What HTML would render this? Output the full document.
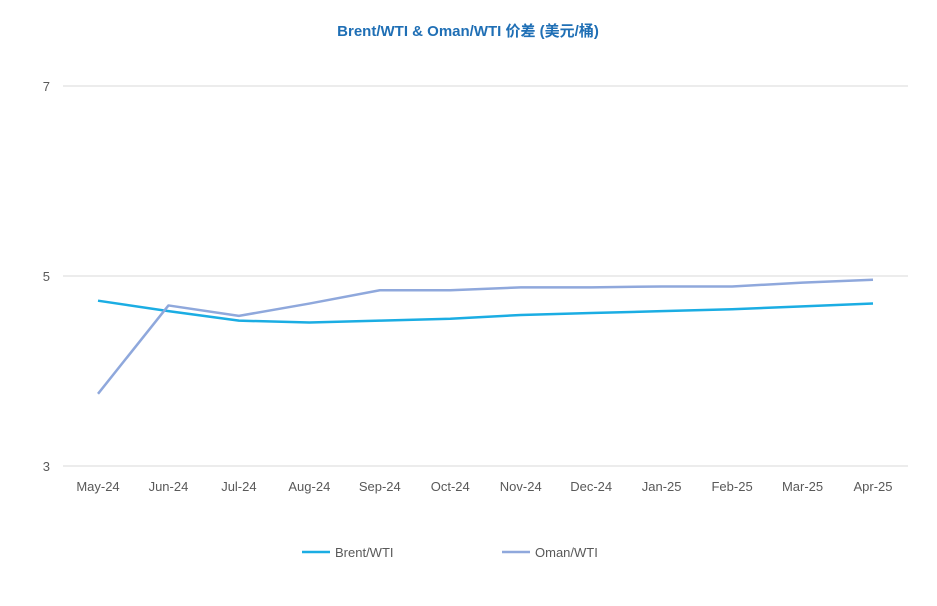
<!DOCTYPE html>
<html><head><meta charset="utf-8"><style>
body{margin:0;background:#fff;width:937px;height:601px;overflow:hidden;font-family:"Liberation Sans","Noto Sans CJK SC",sans-serif}
</style></head><body>
<svg id="c" width="937" height="601" xmlns="http://www.w3.org/2000/svg">
<text x="468" y="36" text-anchor="middle" font-size="15" font-weight="bold" fill="#1F6FB5" font-family="Liberation Sans, Noto Sans CJK SC, sans-serif">Brent/WTI &amp; Oman/WTI 价差 (美元/桶)</text>
</svg>
<script>
const categories=["May-24","Jun-24","Jul-24","Aug-24","Sep-24","Oct-24","Nov-24","Dec-24","Jan-25","Feb-25","Mar-25","Apr-25"];
const brent=[4.74,4.63,4.53,4.51,4.53,4.55,4.59,4.61,4.63,4.65,4.68,4.71];
const oman=[3.76,4.69,4.58,4.71,4.85,4.85,4.88,4.88,4.89,4.89,4.93,4.96];
const yTicks=[3,5,7];
const svg=document.getElementById('c');
const NS="http://www.w3.org/2000/svg";
const x=i=>98+i*(873-98)/(categories.length-1);
const y=v=>466-(v-3)*95;
function mk(t,a){const e=document.createElementNS(NS,t);for(const k in a)e.setAttribute(k,a[k]);svg.appendChild(e);return e;}
yTicks.forEach(v=>{
 const g=mk('line',{x1:63,x2:908,y1:y(v),y2:y(v),stroke:'#d9d9d9','stroke-width':1});
 
 
 const t=mk('text',{x:50,y:y(v)+5,'text-anchor':'end','font-size':13,fill:'#595959'});
 t.textContent=v;
 
 
});
categories.forEach((c,i)=>{
 const t=mk('text',{x:x(i),y:491,'text-anchor':'middle','font-size':13,fill:'#595959'});
 t.textContent=c;
 
 
});
function line(d,col,name){
 const p=mk('polyline',{points:d.map((v,i)=>x(i)+','+y(v)).join(' '),fill:'none',stroke:col,'stroke-width':2.5,'stroke-linejoin':'round'});
 
 
}
line(brent,'#1BADE3','brent-wti-line');
line(oman,'#8FA8DC','oman-wti-line');
[['Brent/WTI','#1BADE3',302],['Oman/WTI','#8FA8DC',502]].forEach(([n,c,lx])=>{
 const l=mk('line',{x1:lx,x2:lx+28,y1:552,y2:552,stroke:c,'stroke-width':2.5});
 
 
 const t=mk('text',{x:lx+33,y:557,'font-size':13,fill:'#595959'});
 t.textContent=n;
 
 
});
</script>
</body></html>
